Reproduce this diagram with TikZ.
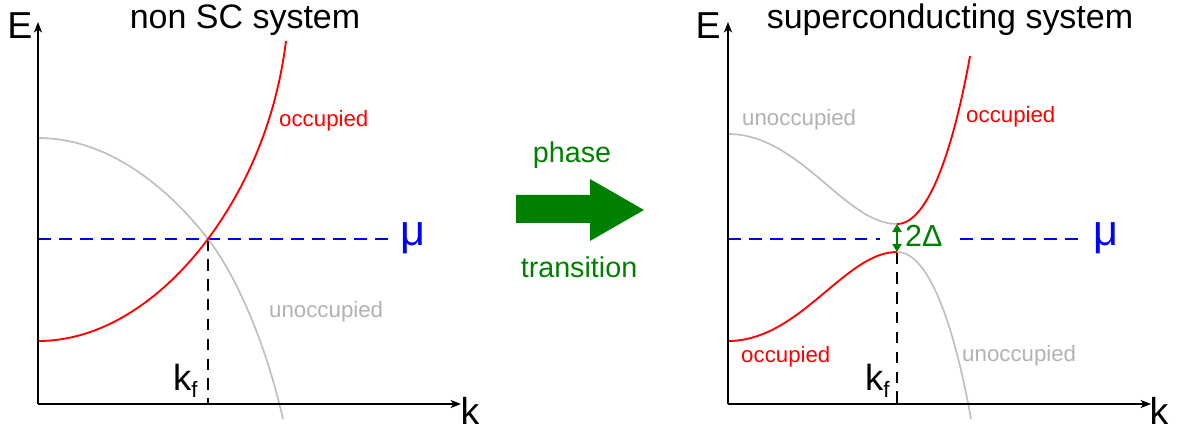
\documentclass[tikz,border=0pt]{standalone}
\usepackage{fontspec}
\setmainfont{Liberation Sans}
\usetikzlibrary{arrows.meta}
\definecolor{cred}{RGB}{255,0,0}
\definecolor{cgray}{RGB}{190,190,190}
\definecolor{cgraytxt}{RGB}{178,178,178}
\definecolor{cblue}{RGB}{0,0,255}
\definecolor{cgreen}{RGB}{0,128,0}
\tikzset{
  axis/.style={line width=1.2pt,-{Stealth[length=9pt,width=7pt,inset=2.5pt]}},
  redcurve/.style={cred,line width=1.6pt},
  graycurve/.style={cgray,line width=1.4pt},
  muline/.style={cblue,line width=1.5pt,dash pattern=on 11pt off 7pt},
  kline/.style={black,line width=1.5pt,dash pattern=on 10pt off 7pt},
  title/.style={inner sep=0pt,anchor=base,font=\fontsize{29pt}{30pt}\selectfont},
  axlabel/.style={inner sep=0pt,anchor=base,font=\fontsize{32pt}{33pt}\selectfont},
  mulabel/.style={inner sep=0pt,anchor=base,text=cblue,font=\fontsize{37pt}{38pt}\selectfont},
  occ/.style={inner sep=0pt,anchor=base west,text=cred,font=\fontsize{19pt}{20pt}\selectfont},
  unocc/.style={inner sep=0pt,anchor=base west,text=cgraytxt,font=\fontsize{19pt}{20pt}\selectfont},
  phtext/.style={inner sep=0pt,anchor=base,text=cgreen,font=\fontsize{24.5pt}{25pt}\selectfont},
  kflabel/.style={inner sep=0pt,anchor=base west,font=\fontsize{31pt}{32pt}\selectfont},
}
\newcommand{\kfsub}{k\raisebox{-6pt}{\fontsize{19pt}{20pt}\selectfont f}}
\begin{document}
\begin{tikzpicture}[x=0.03cm,y=-0.03cm]
\useasboundingbox (0,0) rectangle (1180,432);
% ---------- left plot ----------
\coordinate (oL) at (38,404);
\coordinate (eL) at (38,22);
\coordinate (kL) at (461,404);
\coordinate (muL0) at (38,239);
\coordinate (muL1) at (390,239);
\coordinate (xL) at (208,239);
\coordinate (xLb) at (208,404);
\draw[kline] (xL) -- (xLb);
\draw[muline] (muL0) -- (muL1);
\draw[graycurve] (38,138) .. controls (110,138) and (170,190) .. (xL)
  .. controls (235,274) and (265,340) .. (283,419);
\draw[redcurve] (38,341) .. controls (110,341) and (170,290) .. (xL)
  .. controls (240,196) and (275,130) .. (286,41);
\draw[axis] (oL) -- (eL);
\draw[axis] (oL) -- (kL);
\node[title] (tL) at (245,29) {non SC system};
\node[axlabel] (EL) at (20,39) {E};
\node[axlabel] (KL) at (470,424) {k};
\node[mulabel] (ML) at (413,246) {μ};
\node[occ] (occL) at (279,127) {occupied};
\node[unocc] (unoccL) at (269,318) {unoccupied};
\node[kflabel] (kfL) at (173,390) {\kfsub};
% ---------- arrow ----------
\fill[cgreen] (516,195) -- (590,195) -- (590,179) -- (644,210) -- (590,241) -- (590,223) -- (516,223) -- cycle;
\node[phtext] (ph) at (572,163) {phase};
\node[phtext] (tr) at (579,278) {transition};
% ---------- right plot ----------
\coordinate (oR) at (728,404);
\coordinate (eR) at (728,22);
\coordinate (kR) at (1151,404);
\coordinate (muR0) at (728,239);
\coordinate (muR1) at (1080,239);
\coordinate (up) at (897,224);
\coordinate (lo) at (897,252);
\coordinate (xRb) at (897,404);
\draw[kline] (lo) -- (xRb);
\draw[muline] (muR0) -- (muR1);
\fill[white] (880,228) rectangle (952,250);
\draw[graycurve] (728,134) .. controls (800,134) and (845,224) .. (up);
\draw[redcurve] (up) .. controls (930,224) and (955,140) .. (970,56);
\draw[redcurve] (728,341) .. controls (800,341) and (845,252) .. (lo);
\draw[graycurve] (lo) .. controls (930,252) and (955,330) .. (971,419);
\draw[cgreen,line width=1.5pt,{Triangle[length=7pt,width=8pt]}-{Triangle[length=7pt,width=8pt]}] (up) -- (lo);
\draw[axis] (oR) -- (eR);
\draw[axis] (oR) -- (kR);
\node[title] (tR) at (950,29) {superconducting system};
\node[axlabel] (ER) at (708,39) {E};
\node[axlabel] (KR) at (1159,424) {k};
\node[mulabel] (MR) at (1106,246) {μ};
\node[inner sep=0pt,anchor=base west,text=cgreen,font=\fontsize{26pt}{27pt}\selectfont] (gap) at (905,247) {2Δ};
\node[unocc] (unoccR1) at (742,126) {unoccupied};
\node[occ] (occR1) at (966,123) {occupied};
\node[occ] (occR2) at (741,362) {occupied};
\node[unocc] (unoccR2) at (962,361) {unoccupied};
\node[kflabel] (kfR) at (865,390) {\kfsub};
\end{tikzpicture}
\end{document}
